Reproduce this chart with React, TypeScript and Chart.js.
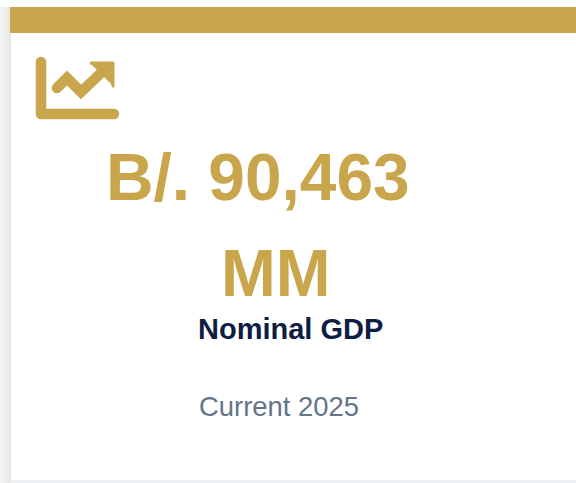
import React, { useEffect, useRef } from "react";
import { Chart, registerables } from "chart.js";

Chart.register(...registerables);

const GOLD = "#C9A64B";
const kpiValueLine1 = "B/. 90,463";
const kpiValueLine2 = "MM";
const kpiLabel = "Nominal GDP";
const kpiPeriod = "Current 2025";

// Trend icon, in icon units
const axisX = [11, 11, 84];
const axisY = [12, 64, 64];
const trendX = [27, 37, 51, 72];
const trendY = [38, 28, 42, 22];
const headX = [60, 83, 83];
const headY = [13, 13, 36];

const zip = (xs: number[], ys: number[]) => xs.map((x, i) => ({ x, y: ys[i] }));

const txt = (
  text: string,
  left: number,
  top: number,
  size: number,
  weight: number,
  color: string
) => (
  <div
    style={{
      position: "absolute",
      left,
      top,
      fontFamily: "'Liberation Sans', Arial, sans-serif",
      fontSize: size,
      fontWeight: weight,
      color,
      lineHeight: `${size}px`,
      whiteSpace: "nowrap",
    }}
  >
    {text}
  </div>
);

export default function App() {
  const ref = useRef<HTMLCanvasElement>(null);
  useEffect(() => {
    document.body.style.margin = "0";
    document.body.style.background = "#fff";
    const chart = new Chart(ref.current!, {
      type: "scatter",
      data: {
        datasets: [
          {
            label: "Axis",
            data: zip(axisX, axisY),
            showLine: true,
            borderColor: GOLD,
            borderWidth: 10.5,
            borderCapStyle: "round",
            borderJoinStyle: "round",
            pointRadius: 0,
          },
          {
            label: "Trend",
            data: zip(trendX, trendY),
            showLine: true,
            borderColor: GOLD,
            borderWidth: 10.5,
            borderCapStyle: "round",
            borderJoinStyle: "miter",
            pointRadius: 0,
          },
          {
            label: "Head",
            data: zip(headX, headY),
            showLine: true,
            fill: "shape",
            backgroundColor: GOLD,
            borderColor: GOLD,
            borderWidth: 3,
            borderJoinStyle: "round",
            pointRadius: 0,
          },
        ],
      },
      options: {
        animation: false,
        responsive: false,
        events: [],
        layout: { padding: 0 },
        plugins: { legend: { display: false }, tooltip: { enabled: false }, title: { display: false } },
        scales: {
          x: { type: "linear", min: 0, max: 96, display: false },
          y: { type: "linear", min: 0, max: 76, reverse: true, display: false },
        },
      },
    });
    return () => chart.destroy();
  }, []);

  return (
    <div style={{ position: "relative", width: 576, height: 483, overflow: "hidden", background: "#fff" }}>
      <div
        style={{
          position: "absolute",
          left: 0,
          top: 7,
          width: 11,
          height: 476,
          background: "linear-gradient(to right, #f4f4f4, #e6e6e6)",
        }}
      />
      <div style={{ position: "absolute", left: 11, top: 480, width: 565, height: 3, background: "#eceff4" }} />
      <div style={{ position: "absolute", left: 10, top: 7, width: 566, height: 26, background: GOLD }} />
      <canvas ref={ref} width={96} height={76} style={{ position: "absolute", left: 30, top: 50, width: 96, height: 76 }} />
      {txt(kpiValueLine1, 106, 145, 65.8, 700, GOLD)}
      {txt(kpiValueLine2, 221, 241, 65.8, 700, GOLD)}
      {txt(kpiLabel, 198, 315, 29, 700, "#0F1D45")}
      {txt(kpiPeriod, 199, 393, 27.4, 400, "#64748B")}
    </div>
  );
}
